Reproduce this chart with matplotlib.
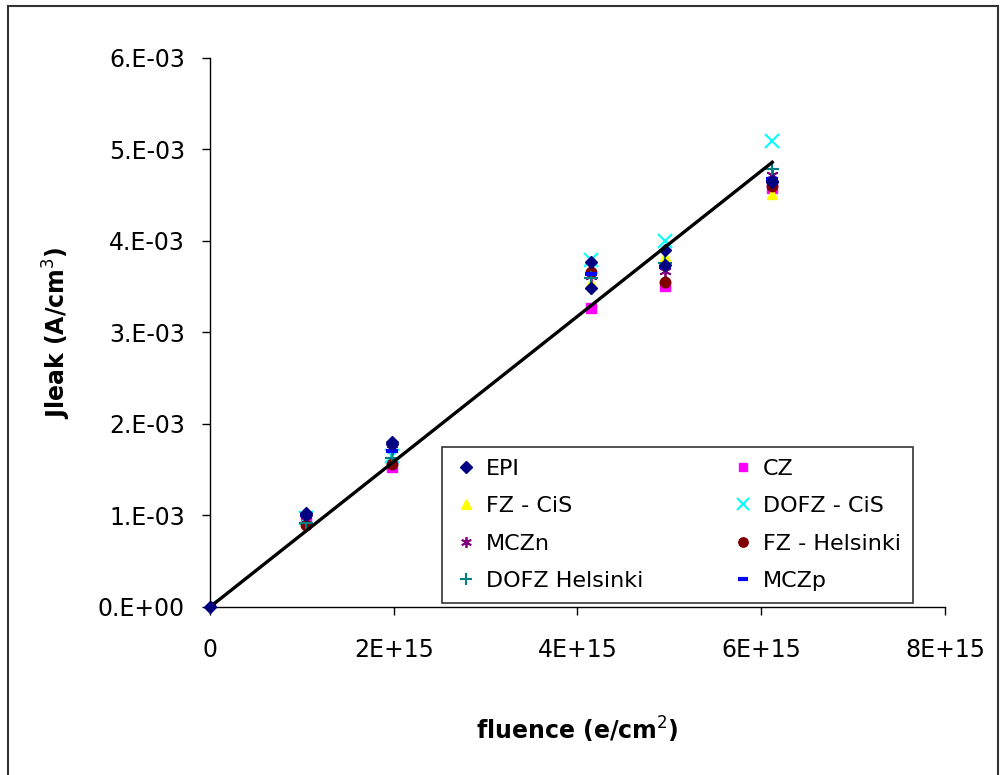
import matplotlib
matplotlib.use("Agg")
import matplotlib.pyplot as plt
from matplotlib.patches import Rectangle

plt.rcParams['font.family'] = ['DejaVu Sans']

# fluence values (e/cm^2) for each measurement group
fluence = [0, 1.05e15, 1.98e15, 4.15e15, 4.95e15, 6.12e15]

series_names = ["EPI", "CZ", "FZ - CiS", "DOFZ - CiS",
                "MCZn", "FZ - Helsinki", "DOFZ Helsinki", "MCZp"]

# leakage current density (A/cm^3), one value per fluence
epi = [0, 1.03e-3, 1.80e-3, 3.49e-3, 3.74e-3, 4.66e-3]
epi_b = [0, 1.01e-3, 1.78e-3, 3.77e-3, 3.90e-3, 4.64e-3]
cz = [0, 0.96e-3, 1.53e-3, 3.27e-3, 3.51e-3, 4.58e-3]
fz_cis = [0, 0.93e-3, 1.60e-3, 3.55e-3, 3.84e-3, 4.51e-3]
dofz_cis = [0, 0.97e-3, 1.65e-3, 3.79e-3, 4.00e-3, 5.09e-3]
mczn = [0, 0.95e-3, 1.73e-3, 3.62e-3, 3.67e-3, 4.72e-3]
fz_hel = [0, 0.90e-3, 1.56e-3, 3.66e-3, 3.55e-3, 4.60e-3]
dofz_hel = [0, 0.92e-3, 1.63e-3, 3.60e-3, 3.76e-3, 4.79e-3]
mczp = [0, 1.00e-3, 1.70e-3, 3.64e-3, 3.72e-3, 4.68e-3]

# linear fit line
fit_x = [0, 6.12e15]
fit_y = [0, 4.86e-3]

fig = plt.figure(figsize=(10.07, 7.75), dpi=100)
ax = fig.add_axes([0.2085, 0.2168, 0.7299, 0.7084])

ax.plot(fit_x, fit_y, color='black', lw=2.4, zorder=4)

ms = 6.5
h = {}
h[1], = ax.plot(fluence, cz, ls='none', marker='s', color='#ff00ff', ms=ms, label=series_names[1])
h[2], = ax.plot(fluence, fz_cis, ls='none', marker='^', color='#ffff00', ms=ms + 1, label=series_names[2])
h[3], = ax.plot(fluence, dofz_cis, ls='none', marker='x', color='#00ffff', ms=ms + 3, mew=1.5, label=series_names[3])
h[4], = ax.plot(fluence, mczn, ls='none', marker=(6, 2, 0), color='#800080', ms=ms + 2, mew=1.3, label=series_names[4])
h[5], = ax.plot(fluence, fz_hel, ls='none', marker='o', color='#800000', ms=ms + 1, label=series_names[5])
h[6], = ax.plot(fluence, dofz_hel, ls='none', marker='+', color='#008080', ms=ms + 3, mew=1.5, label=series_names[6])
h[7], = ax.plot(fluence, mczp, ls='none', marker='_', color='#0000ff', ms=ms + 2, mew=3, label=series_names[7])
ax.plot(fluence[1:], epi_b[1:], ls='none', marker='D', color='#000080', ms=ms)
h[0], = ax.plot(fluence, epi, ls='none', marker='D', color='#000080', ms=ms,
                label=series_names[0], zorder=8, clip_on=False)

ax.set_xlim(0, 8e15)
ax.set_ylim(0, 6e-3)
ax.set_xticks([0, 2e15, 4e15, 6e15, 8e15])
ax.set_xticklabels(["0", "2E+15", "4E+15", "6E+15", "8E+15"])
ax.set_yticks([i * 1e-3 for i in range(7)])
ax.set_yticklabels(["0.E+00", "1.E-03", "2.E-03", "3.E-03", "4.E-03", "5.E-03", "6.E-03"])
ax.tick_params(labelsize=17, direction='out', length=6, width=1, pad=12)
ax.tick_params(axis='x', pad=16)
ax.spines['top'].set_visible(False)
ax.spines['right'].set_visible(False)
ax.spines['left'].set_linewidth(1)
ax.spines['bottom'].set_linewidth(1)
for sp in ax.spines.values():
    sp.set_zorder(6)

ax.set_xlabel("fluence (e/cm$^2$)", fontsize=17, fontweight='bold', labelpad=38)
ax.set_ylabel("Jleak (A/cm$^3$)", fontsize=17, fontweight='bold', labelpad=18)

# row-wise order for a 2-column legend
order = [0, 2, 4, 6, 1, 3, 5, 7]
leg = ax.legend([h[i] for i in order], [series_names[i] for i in order],
                ncol=2, loc='lower left', bbox_to_anchor=(0.316, 0.007),
                borderaxespad=0.0,
                fontsize=16, frameon=True, fancybox=False, edgecolor='black',
                borderpad=0.55, handletextpad=0.4, columnspacing=4.0,
                labelspacing=0.78, handlelength=1.0, markerscale=0.9)
leg.get_frame().set_linewidth(1.2)
leg.set_zorder(7)

fig.patches.append(Rectangle((8 / 1007, -0.01), 990 / 1007, 1 - 6 / 775 + 0.01,
                             transform=fig.transFigure, fill=False,
                             edgecolor='#333333', lw=1.5))

fig.savefig("out.png", dpi=100)
